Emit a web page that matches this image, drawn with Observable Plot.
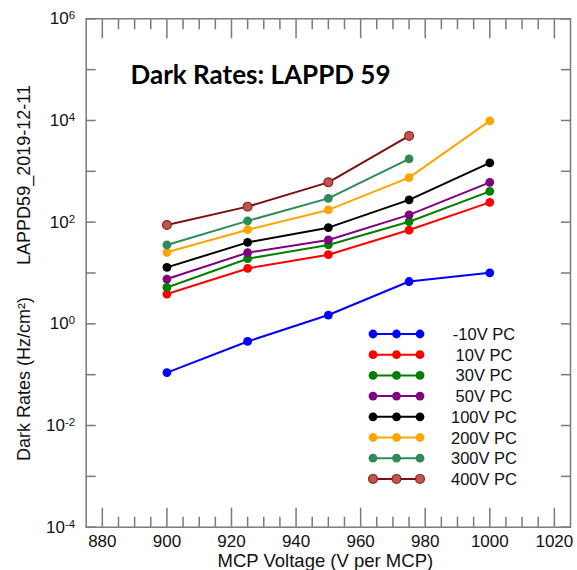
<!DOCTYPE html>
<html><head><meta charset="utf-8">
<script src="https://cdn.jsdelivr.net/npm/d3@7"></script>
<script src="https://cdn.jsdelivr.net/npm/@observablehq/plot@0.6"></script>
<style>
body{margin:0;background:#fff;}
#wrap{position:relative;width:577px;height:570px;}
#wrap svg.legend{position:absolute;left:0;top:0;}
</style></head><body><div id="wrap"></div>
<script>
// ---- data ----
const voltages = [900, 925, 950, 975, 1000];
const seriesNames = ["-10V PC", "10V PC", "30V PC", "50V PC", "100V PC", "200V PC", "300V PC", "400V PC"];
const rates_m10V = [0.11, 0.45, 1.49, 6.8, 10.1];
const rates_10V  = [3.86, 12.3, 22.9, 70, 245];
const rates_30V  = [5.2, 19.1, 35.6, 102, 404];
const rates_50V  = [7.6, 25.1, 44.7, 139, 607];
const rates_100V = [12.9, 40, 78, 274, 1462];
const rates_200V = [25.5, 71, 174, 751, 9820];
const rates_300V = [35.6, 106, 294, 1754];
const rates_400V = [88, 202, 607, 4977];
const seriesRates = [rates_m10V, rates_10V, rates_30V, rates_50V, rates_100V, rates_200V, rates_300V, rates_400V];
const lineColors = ["#0000ff", "#ff0000", "#008000", "#800080", "#000000", "#ffa500", "#2e8b57", "#7a1010"];
const dotFills   = ["#0000ff", "#ff0000", "#008000", "#800080", "#000000", "#ffa500", "#2e8b57", "#c05550"];
const dotStrokes = ["#0000ff", "#ff0000", "#008000", "#800080", "#000000", "#ffa500", "#2e8b57", "#8b2020"];
const xMajorTicks = [880, 900, 920, 940, 960, 980, 1000, 1020];
const xMinorTicks = [885, 890, 895, 905, 910, 915, 925, 930, 935, 945, 950, 955, 965, 970, 975, 985, 990, 995, 1005, 1010, 1015];
const yTicks = [1e-4, 1e-3, 1e-2, 1e-1, 1e0, 1e1, 1e2, 1e3, 1e4, 1e5, 1e6];
const yLabelTicks = [1e-4, 1e-2, 1e0, 1e2, 1e4, 1e6];
const yLabelExponents = ["-4", "-2", "0", "2", "4", "6"];
const titleText = "Dark Rates: LAPPD 59";
const sideText = "LAPPD59_2019-12-11";
const yLabel = "Dark Rates (Hz/cm²)";
const xLabel = "MCP Voltage (V per MCP)";

const rows = seriesNames.map((name, i) =>
  seriesRates[i].map((r, j) => ({series: name, idx: i, voltage: voltages[j], rate: r})));

const axisColor = "#7a7a7a";
const seriesMarks = rows.flatMap((data, i) => [
  Plot.line(data, {x: "voltage", y: "rate", stroke: lineColors[i], strokeWidth: 2}),
  Plot.dot(data, {x: "voltage", y: "rate", r: 4.4, fill: dotFills[i], stroke: dotStrokes[i], strokeWidth: i === 7 ? 1.2 : 0})
]);

const chart = Plot.plot({
  width: 577, height: 570,
  marginLeft: 85.7, marginRight: 7, marginTop: 18.3, marginBottom: 43.3,
  style: {fontFamily: "Liberation Sans, Arial, sans-serif", fontSize: "17px", color: "#111", background: "#fff"},
  x: {domain: [875, 1025]},
  y: {type: "log", domain: [1e-4, 1e6]},
  marks: [
    ...seriesMarks,
    Plot.frame({stroke: axisColor, strokeWidth: 1.5}),
    Plot.axisX({anchor: "bottom", ticks: xMajorTicks, tickSize: -19, fill: "none", stroke: axisColor, strokeWidth: 1.5, label: null}),
    Plot.axisX({anchor: "top", ticks: xMajorTicks, tickSize: -19, fill: "none", stroke: axisColor, strokeWidth: 1.5, label: null}),
    Plot.axisX({anchor: "bottom", ticks: xMinorTicks, tickSize: -10, fill: "none", stroke: axisColor, strokeWidth: 1.5, label: null}),
    Plot.axisX({anchor: "top", ticks: xMinorTicks, tickSize: -10, fill: "none", stroke: axisColor, strokeWidth: 1.5, label: null}),
    Plot.axisX({anchor: "bottom", ticks: xMajorTicks, tickSize: 0, tickPadding: 8, tickFormat: d => String(d), label: null, fill: "#111"}),
    Plot.axisY({anchor: "left", ticks: yTicks, tickSize: -10, fill: "none", stroke: axisColor, strokeWidth: 1.5, label: null}),
    Plot.axisY({anchor: "right", ticks: yTicks, tickSize: -10, fill: "none", stroke: axisColor, strokeWidth: 1.5, label: null}),
    Plot.axisY({anchor: "left", ticks: yLabelTicks, tickSize: 0, tickPadding: 11,
      tickFormat: d => "10^" + yLabelExponents[yLabelTicks.indexOf(d)], label: null, fill: "#111"}),
    Plot.text([xLabel], {text: d => d, frameAnchor: "bottom", textAnchor: "middle", dx: -3, dy: 39.3, lineAnchor: "bottom", fontSize: 18.5, fill: "#111"}),
    Plot.text([yLabel], {text: d => d, frameAnchor: "left", textAnchor: "middle", rotate: -90, dx: -62, dy: 106, fontSize: 18, fill: "#111"}),
    Plot.text([sideText], {text: d => d, frameAnchor: "left", textAnchor: "middle", rotate: -90, dx: -62, dy: -98, fontSize: 18, fill: "#111"}),
    Plot.text([titleText], {text: d => d, frameAnchor: "top-left", dx: 44.3, dy: 64.7, lineAnchor: "bottom", textAnchor: "start",
      fontSize: 26, fontWeight: "bold", fontFamily: "Lato, Liberation Sans, sans-serif", fill: "#000"})
  ]
});

// superscript exponents on y tick labels
d3.select(chart).selectAll('g[aria-label="y-axis tick label"] text').each(function() {
  const t = this.textContent;
  const p = t.indexOf("^");
  if (p < 0) return;
  const base = t.slice(0, p), exp = t.slice(p + 1);
  const sel = d3.select(this);
  sel.text(null);
  sel.append("tspan").text(base);
  sel.append("tspan").attr("dy", "-0.42em").attr("font-size", "11.5px").text(exp);
});

const wrap = document.getElementById("wrap");
wrap.appendChild(chart);

// legend (inside plot area, bottom right)
const legend = d3.create("svg").attr("class", "legend").attr("width", 577).attr("height", 570)
  .style("font-family", "Liberation Sans, Arial, sans-serif");
const lx1 = 373, lx2 = 420, ly0 = 334, lstep = 20.7, ltx = 484;
seriesNames.forEach((name, i) => {
  const y = ly0 + i * lstep;
  const g = legend.append("g");
  g.append("line").attr("x1", lx1).attr("x2", lx2).attr("y1", y).attr("y2", y)
    .attr("stroke", lineColors[i]).attr("stroke-width", 2);
  [lx1, (lx1 + lx2) / 2, lx2].forEach(cx => g.append("circle").attr("cx", cx).attr("cy", y).attr("r", 4.4)
    .attr("fill", dotFills[i]).attr("stroke", dotStrokes[i]).attr("stroke-width", i === 7 ? 1.2 : 0));
  g.append("text").attr("x", ltx).attr("y", y + 6).attr("text-anchor", "middle")
    .attr("font-size", 16.5).attr("fill", "#111").text(name);
});
wrap.appendChild(legend.node());
</script></body></html>
